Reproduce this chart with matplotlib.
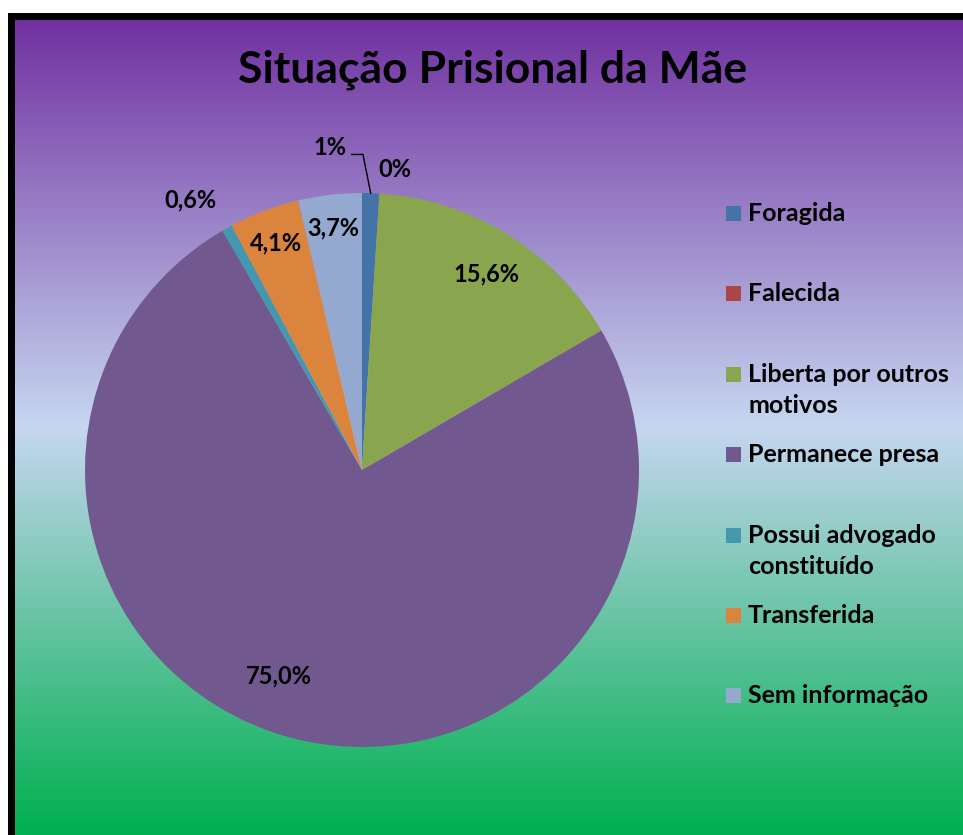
import numpy as np
import matplotlib
matplotlib.use('Agg')
import matplotlib.pyplot as plt
from matplotlib.colors import LinearSegmentedColormap
from matplotlib.patches import Rectangle
from matplotlib.lines import Line2D

# ---------------- data ----------------
title = "Situação Prisional da Mãe"
categories = ["Foragida", "Falecida", "Liberta por outros motivos", "Permanece presa",
              "Possui advogado constituído", "Transferida", "Sem informação"]
legend_labels = ["Foragida", "Falecida", "Liberta por outros\nmotivos", "Permanece presa",
                 "Possui advogado\nconstituído", "Transferida", "Sem informação"]
values = [1.0, 0.0, 15.6, 75.0, 0.6, 4.1, 3.7]
value_labels = ["1%", "0%", "15,6%", "75,0%", "0,6%", "4,1%", "3,7%"]
colors = ["#4572A7", "#AA4643", "#89A54E", "#71588F", "#4198AF", "#DB843D", "#93A9CF"]

# label placement styles (radius factor, angular offset in degrees)
label_r = [1.17, 1.09, 0.84, 0.80, 1.155, 0.877, 0.88]
label_dth = [7.5, -2.7, -0.7, -7.2, 3.3, 0.0, 0.0]

FONT = ['Lato', 'DejaVu Sans']
plt.rcParams['font.family'] = FONT

W, H = 963, 835
fig = plt.figure(figsize=(W / 100, H / 100), dpi=100)
fig.patch.set_facecolor('white')

# ---------------- gradient background ----------------
top = 16
bg = fig.add_axes([10 / W, 0, 1 - 10 / W, (H - top) / H])
cmap = LinearSegmentedColormap.from_list(
    'bg', [(0.0, (112/255, 48/255, 160/255)),
           (0.5, (198/255, 214/255, 240/255)),
           (1.0, (0/255, 176/255, 80/255))])
bg.imshow(np.linspace(0, 1, 512)[:, None], aspect='auto', cmap=cmap,
          extent=[0, 1, 0, 1], origin='upper')
bg.set_xlim(0, 1)
bg.set_ylim(0, 1)
bg.axis('off')
bg.set_zorder(0)

# frame (left and top edges visible, thin dark line at right edge)
fig.lines.append(Line2D([10.5 / W, 10.5 / W, 1.02], [-0.02, 1 - 16 / H, 1 - 16 / H],
                        transform=fig.transFigure, color='black', linewidth=7 * 0.72,
                        solid_joinstyle='miter', zorder=5))
fig.lines.append(Line2D([962.5 / W, 962.5 / W], [-0.02, 1 - 16 / H],
                        transform=fig.transFigure, color='#3a2a55', linewidth=0.72,
                        zorder=5))

# ---------------- title ----------------
fig.text(493 / W, 1 - 70 / H, title, ha='center', va='center',
         fontsize=32, fontweight='bold', color='black', zorder=6)

# ---------------- pie ----------------
cx, cy, R = 362, 470, 277
ax = fig.add_axes([(cx - R) / W, (H - cy - R) / H, 2 * R / W, 2 * R / H])
ax.set_zorder(2)
ax.patch.set_alpha(0)
wedges, _ = ax.pie(values, colors=colors, startangle=90, counterclock=False,
                   radius=1.0, wedgeprops=dict(linewidth=0))
ax.set_xlim(-1, 1)
ax.set_ylim(-1, 1)
ax.set_aspect('auto')
ax.axis('off')

for i, w in enumerate(wedges):
    mid = (w.theta1 + w.theta2) / 2.0
    ang = np.deg2rad(mid + label_dth[i])
    lx, ly = label_r[i] * np.cos(ang), label_r[i] * np.sin(ang)
    ax.text(lx, ly, value_labels[i], ha='center', va='center',
            fontsize=17, fontweight='bold', color='black', clip_on=False)
    if i == 0:
        m = np.deg2rad(mid)
        ex, ey = np.cos(m), np.sin(m)
        elx, ely = ex - 0.028, ly - 0.025
        ax.plot([elx - 0.04, elx, ex], [ely, ely, ey], color='black',
                lw=1.0, clip_on=False, solid_joinstyle='miter')

# ---------------- legend ----------------
base0, step, line_h = 221, 80.4, 31.5
sq = 15
for i, lab in enumerate(legend_labels):
    yb = base0 + i * step
    fig.patches.append(Rectangle((726 / W, 1 - (yb) / H), sq / W, sq / H,
                                 transform=fig.transFigure, facecolor=colors[i],
                                 edgecolor='none', zorder=6))
    for k, line in enumerate(lab.split('\n')):
        fig.text(748 / W, 1 - (yb + k * line_h) / H, line, ha='left', va='baseline',
                 fontsize=18, fontweight='bold', color='black', zorder=6)

fig.savefig('out.png', dpi=100, facecolor=fig.get_facecolor())
